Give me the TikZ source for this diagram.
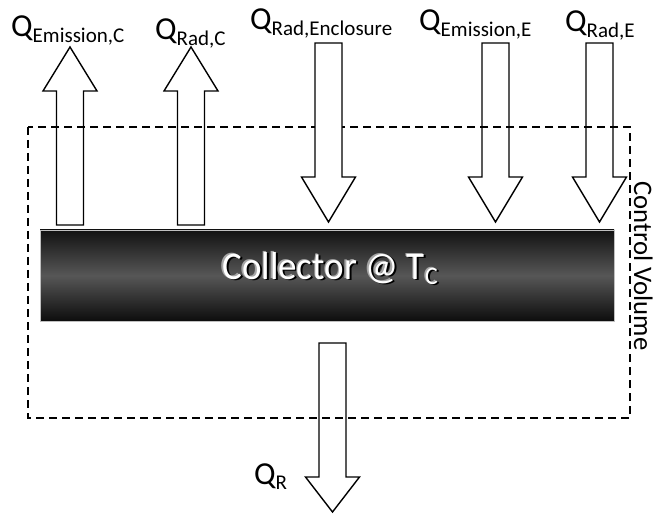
\documentclass[tikz,border=0pt]{standalone}
\usepackage{fontspec}
\setmainfont{Carlito}
\usetikzlibrary{shadings}

% block arrow: centre x, tail y, head-base y, tip y, extra options
\newcommand\blockarrow[5]{%
  \draw[flux,#5] (#1-13.5,#2) -- (#1-13.5,#3) -- (#1-27,#3) -- (#1,#4)
    -- (#1+27,#3) -- (#1+13.5,#3) -- (#1+13.5,#2) -- cycle;}

\newcommand\heatlabel[1]{{\fontsize{32}{36}\selectfont Q}\raisebox{-5.5pt}{\fontsize{21}{24}\selectfont #1}}
\newcommand\colltitle{Collector @ T\raisebox{-5pt}{\fontsize{25}{27}\selectfont C}}

\begin{document}
\begin{tikzpicture}[x=1pt,y=-1pt,
  flux/.style={draw=black,line width=1.4pt,line join=miter},
  cvbox/.style={draw=black,line width=1.3pt,dash pattern=on 8pt off 5pt},
  qlabel/.style={anchor=base west,inner sep=0pt},
  colltext/.style={font=\fontsize{39}{42}\selectfont,xscale=0.95,anchor=base,inner sep=0pt}]
\useasboundingbox (0,0) rectangle (653,521);

% control volume
\draw[cvbox] (28,127) rectangle (630,418);
\node[rotate=-90,anchor=base,inner sep=0pt,font=\fontsize{26.7}{30}\selectfont] (cv) at (634,266) {Control Volume};

% collector plate
\draw[draw=black!25,line width=0.8pt,top color=black!93,bottom color=black!95,middle color=black!66]
  (40,230) rectangle (614,321);
\node[colltext,text=black] (collshadow) at (332,281) {\colltitle};
\node[colltext,text=black!35] (collghost) at (328.5,278.5) {\colltitle};
\node[colltext,text=white] (coll) at (330,279.5) {\colltitle};

% heat flows
\blockarrow{70}{225}{91}{47}{}
\blockarrow{191}{225}{91}{47}{}
\blockarrow{328.5}{43}{177}{222}{fill=white}
\blockarrow{495.5}{43}{177}{222}{}
\blockarrow{599.5}{43}{177}{222}{}
\blockarrow{332.5}{343}{477}{512}{}

% labels
\node[qlabel] (qemc) at (11,37) {\heatlabel{Emission,C}};
\node[qlabel] (qradc) at (155,40) {\heatlabel{Rad,C}};
\node[qlabel] (qencl) at (250,30) {\heatlabel{Rad,Enclosure}};
\node[qlabel] (qeme) at (419,31) {\heatlabel{Emission,E}};
\node[qlabel] (qrade) at (565,32) {\heatlabel{Rad,E}};
\node[qlabel] (qr) at (254,484) {\heatlabel{R}};
\end{tikzpicture}
\end{document}
